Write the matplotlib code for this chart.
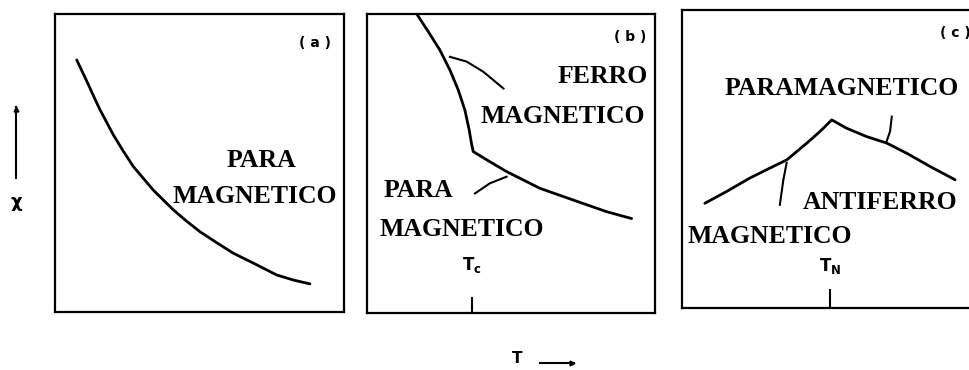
import matplotlib.pyplot as plt

# (a) paramagnet: chi falls off with T
para_T = [0.075, 0.096, 0.116, 0.136, 0.156, 0.202, 0.236, 0.271, 0.340, 0.410,
          0.456, 0.502, 0.560, 0.617, 0.686, 0.767, 0.825, 0.882]
para_chi = [0.846, 0.803, 0.762, 0.719, 0.678, 0.594, 0.540, 0.488, 0.409, 0.342,
            0.304, 0.269, 0.232, 0.197, 0.164, 0.124, 0.107, 0.094]

# (b) ferromagnet: steep branch below Tc, paramagnetic tail above
ferro_T = [0.173, 0.213, 0.253, 0.288, 0.317, 0.340, 0.355, 0.363, 0.369,
           0.427, 0.485, 0.601, 0.716, 0.832, 0.919]
ferro_chi = [1.000, 0.941, 0.880, 0.813, 0.746, 0.679, 0.612, 0.567, 0.540,
             0.506, 0.473, 0.417, 0.378, 0.339, 0.316]
T_c = 0.365

# (c) antiferromagnet: cusp at the Neel temperature
afm_T = [0.078, 0.153, 0.232, 0.312, 0.358, 0.426, 0.471, 0.511,
         0.562, 0.630, 0.699, 0.767, 0.846, 0.932]
afm_chi = [0.351, 0.391, 0.436, 0.475, 0.497, 0.553, 0.592, 0.631,
           0.603, 0.575, 0.553, 0.519, 0.475, 0.430]
T_N = 0.505

# leader lines from the labels to the curves
lead_b1_x = [0.288, 0.346, 0.404, 0.474]
lead_b1_y = [0.857, 0.841, 0.807, 0.751]
lead_b2_x = [0.375, 0.427, 0.485]
lead_b2_y = [0.400, 0.434, 0.456]
lead_c1_x = [0.357, 0.346, 0.334]
lead_c1_y = [0.486, 0.430, 0.346]
lead_c2_x = [0.716, 0.710, 0.698]
lead_c2_y = [0.642, 0.592, 0.558]

SERIF = dict(family="Liberation Serif", fontsize=18.5, fontweight="bold", color="black")
SANS = dict(family="DejaVu Sans", fontweight="bold", color="black")
CURVE = dict(color="black", lw=2.0, solid_joinstyle="round", solid_capstyle="round")
LEAD = dict(color="black", lw=1.5, solid_joinstyle="round")

fig = plt.figure(figsize=(9.69, 3.70), dpi=100)
ax_a = fig.add_axes([0.0568, 0.157, 0.2982, 0.805])
ax_b = fig.add_axes([0.3787, 0.154, 0.2972, 0.808])
ax_c = fig.add_axes([0.7038, 0.168, 0.3024, 0.805])

for ax in (ax_a, ax_b, ax_c):
    ax.set_xlim(0, 1)
    ax.set_ylim(0, 1)
    ax.set_xticks([])
    ax.set_yticks([])
    for s in ax.spines.values():
        s.set_linewidth(1.6)

# panel (a)
ax_a.plot(para_T, para_chi, **CURVE)
ax_a.text(0.90, 0.903, "( a )", ha="center", va="center", fontsize=10, **SANS)
ax_a.text(0.716, 0.51, "PARA", ha="center", va="center", **SERIF)
ax_a.text(0.408, 0.386, "MAGNETICO", ha="left", va="center", **SERIF)

# panel (b)
ax_b.plot(ferro_T, ferro_chi, **CURVE)
ax_b.plot(lead_b1_x, lead_b1_y, **LEAD)
ax_b.plot(lead_b2_x, lead_b2_y, **LEAD)
ax_b.plot([T_c, T_c], [0, 0.05], color="black", lw=1.5)
ax_b.text(0.913, 0.924, "( b )", ha="center", va="center", fontsize=10, **SANS)
ax_b.text(0.976, 0.79, "FERRO", ha="right", va="center", **SERIF)
ax_b.text(0.965, 0.657, "MAGNETICO", ha="right", va="center", **SERIF)
ax_b.text(0.057, 0.411, "PARA", ha="left", va="center", **SERIF)
ax_b.text(0.045, 0.278, "MAGNETICO", ha="left", va="center", **SERIF)
ax_b.text(T_c, 0.16, r"T$_\mathregular{c}$", ha="center", va="center", fontsize=12, **SANS)

# panel (c)
ax_c.plot(afm_T, afm_chi, **CURVE)
ax_c.plot(lead_c1_x, lead_c1_y, **LEAD)
ax_c.plot(lead_c2_x, lead_c2_y, **LEAD)
ax_c.plot([T_N, T_N], [0, 0.06], color="black", lw=1.5)
ax_c.text(0.932, 0.923, "( c )", ha="center", va="center", fontsize=10, **SANS)
ax_c.text(0.147, 0.738, "PARAMAGNETICO", ha="left", va="center", **SERIF)
ax_c.text(0.413, 0.352, "ANTIFERRO", ha="left", va="center", **SERIF)
ax_c.text(0.020, 0.238, "MAGNETICO", ha="left", va="center", **SERIF)
ax_c.text(T_N, 0.14, r"T$_\mathregular{N}$", ha="center", va="center", fontsize=12, **SANS)

# shared axis labels with arrows
fig.text(0.0165, 0.454, "χ", ha="center", va="center", fontsize=13, **SANS)
fig.add_artist(plt.Line2D([0.0165, 0.0165], [0.519, 0.711], color="black", lw=1.5))
fig.add_artist(plt.Line2D([0.0165], [0.705], marker="^", ms=3.5, color="black"))
fig.text(0.5335, 0.032, "T", ha="center", va="center", fontsize=11, **SANS)
fig.add_artist(plt.Line2D([0.557, 0.592], [0.019, 0.019], color="black", lw=1.5))
fig.add_artist(plt.Line2D([0.590], [0.019], marker=">", ms=3.5, color="black"))

fig.savefig("out.png", dpi=100)
